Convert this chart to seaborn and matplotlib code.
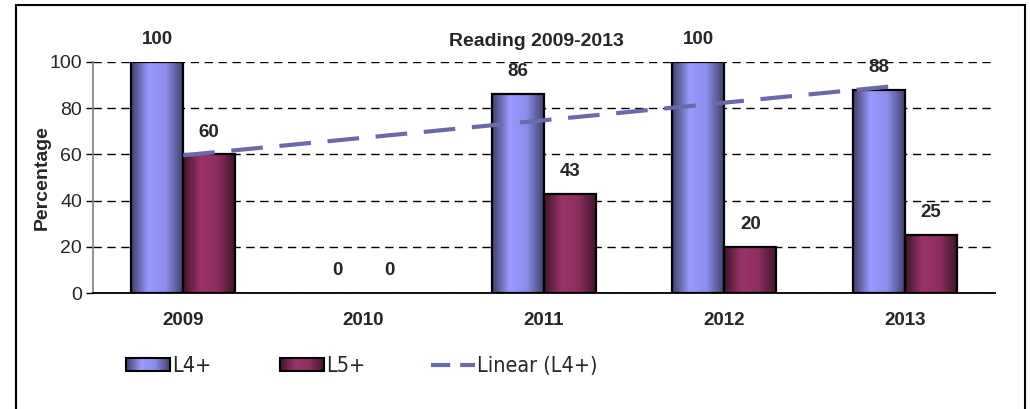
import numpy as np
import pandas as pd
import matplotlib
matplotlib.use("Agg")
import matplotlib.pyplot as plt
import seaborn as sns
from matplotlib.colors import LinearSegmentedColormap, to_rgb
from matplotlib.patches import Rectangle
from matplotlib import font_manager

# data
years = ["2009", "2010", "2011", "2012", "2013"]
l4_values = [100, 0, 86, 100, 88]
l5_values = [60, 0, 43, 20, 25]
series_names = ["L4+", "L5+"]
series_colors = ["#9999FF", "#993366"]
trend_color = "#6A6AA8"

sns.set_theme(style="white")
plt.rcParams["font.family"] = ["Liberation Sans", "DejaVu Sans"]

# a condensed face for the legend, if one is installed
fonts = font_manager.fontManager.ttflist
legend_prop = {"family": "Liberation Sans", "size": 15}
if any(f.name == "Liberation Sans Narrow" for f in fonts):
    legend_prop = {"family": "Liberation Sans Narrow", "size": 17}
elif any(f.name == "DejaVu Sans" and f.stretch == "condensed" for f in fonts):
    legend_prop = {"family": "DejaVu Sans", "stretch": "condensed", "size": 15.5}

df = pd.DataFrame({
    "Year": years * 2,
    "Percentage": l4_values + l5_values,
    "Level": [series_names[0]] * len(years) + [series_names[1]] * len(years),
})

fig = plt.figure(figsize=(10.30, 4.09), dpi=100)
ax = fig.add_axes([93 / 1030, 1 - 293 / 409, (995 - 93) / 1030, (293 - 62) / 409])

sns.barplot(data=df, x="Year", y="Percentage", hue="Level",
            palette=series_colors, width=0.576, gap=0, ax=ax,
            edgecolor="black", linewidth=1.6, legend=False, zorder=3)


def grad_cmap(base):
    c = np.array(to_rgb(base))
    dark = c * 0.42
    return LinearSegmentedColormap.from_list("g", [dark, c, c * 0.92, dark * 1.05])


# gradient fill, clipped to each bar
for cont, col in zip(ax.containers, series_colors):
    cmap = grad_cmap(col)
    grad = np.linspace(0, 1, 64).reshape(1, -1)
    for bar in cont:
        h = bar.get_height()
        if h <= 0:
            bar.set_linewidth(0)
            continue
        x0 = bar.get_x()
        w = bar.get_width()
        im = ax.imshow(grad, cmap=cmap, aspect="auto",
                       extent=(x0, x0 + w, 0, h), zorder=2.5)
        im.set_clip_path(bar)
        bar.set_facecolor("none")
    ax.bar_label(cont, fmt="%d", padding=10, fontsize=13.5,
                 fontweight="bold", clip_on=False)

# linear trend of L4+
xs = np.arange(len(years))
coef = np.polyfit(xs, l4_values, 1)
ax.plot([xs[0], xs[-1]], np.polyval(coef, [xs[0], xs[-1]]),
        color=trend_color, lw=3.0, dashes=(7.6, 4.0), zorder=5,
        solid_capstyle="butt", dash_capstyle="butt")

ax.set_xlim(-0.5, len(years) - 0.5)
ax.set_ylim(0, 100)
ax.set_yticks(np.arange(0, 101, 20))
ax.yaxis.grid(True, color="black", linestyle=(0, (6, 4)), lw=1.0)
ax.set_axisbelow(True)

ax.set_xticks(xs)
ax.set_xticklabels(years, fontsize=13.5, fontweight="bold")
ax.set_xticks(np.arange(-0.5, len(years), 1), minor=True)
ax.tick_params(axis="x", which="major", length=0, pad=14)
ax.tick_params(axis="x", which="minor", length=5, width=1, color="black", direction="out")
ax.tick_params(axis="y", length=5, width=1, color="black", direction="out",
               labelsize=14, left=True, pad=3)
ax.set_xlabel("")
ax.set_ylabel("Percentage", fontsize=14, fontweight="bold", va="center")
ax.yaxis.set_label_coords((42 - 93) / 902, 0.5)

for s in ["top", "right"]:
    ax.spines[s].set_visible(False)
ax.spines["left"].set_color("#808080")
ax.spines["left"].set_linewidth(1.2)
ax.spines["bottom"].set_color("black")
ax.spines["bottom"].set_linewidth(1.3)

fig.text(536 / 1030, 1 - 42 / 409, "Reading 2009-2013",
         fontsize=14, fontweight="bold", ha="center", va="center")


# legend with striped gradient handles
class GradHandler:
    def __init__(self, base):
        self.cmap = grad_cmap(base)

    def legend_artist(self, legend, orig_handle, fontsize, handlebox):
        x0, y0 = -handlebox.xdescent, -handlebox.ydescent
        w, h = handlebox.width, handlebox.height
        n = 30
        for i in range(n):
            r = Rectangle((x0 + w * i / n, y0), w / n + 0.3, h,
                          facecolor=self.cmap(i / (n - 1)), edgecolor="none",
                          transform=handlebox.get_transform())
            handlebox.add_artist(r)
        frame = Rectangle((x0, y0), w, h, facecolor="none", edgecolor="black",
                          lw=1.5, transform=handlebox.get_transform())
        handlebox.add_artist(frame)
        return frame


h4 = Rectangle((0, 0), 1, 1)
h5 = Rectangle((0, 0), 1, 1)
trend_handle = plt.Line2D([], [], color=trend_color, lw=3.0, dashes=(4.6, 2.4),
                          dash_capstyle="butt")
entries = [(h4, "L4+", 126), (h5, "L5+", 280), (trend_handle, "Linear (L4+)", 431)]
handlers = {h4: GradHandler(series_colors[0]), h5: GradHandler(series_colors[1])}
hl = 44 / (legend_prop["size"] * 100 / 72)
for handle, label, xpix in entries:
    fig.legend([handle], [label], handler_map=handlers,
               loc="center left", frameon=False,
               bbox_to_anchor=(xpix / 1030, 1 - 366 / 409),
               prop=legend_prop, handlelength=hl, handleheight=0.6,
               handletextpad=0.1, borderpad=0, borderaxespad=0)

# outer chart border
fig.patches.append(Rectangle((16 / 1030, -0.05), (1025 - 16) / 1030, 1.05 - 5 / 409,
                             transform=fig.transFigure, facecolor="none",
                             edgecolor="black", lw=1.5))

fig.savefig("out.png", dpi=100)
